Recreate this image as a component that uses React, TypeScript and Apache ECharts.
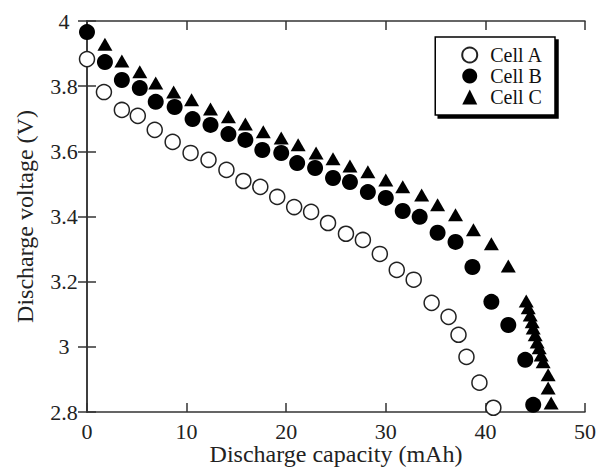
import React, { useEffect, useRef } from "react";
import * as echarts from "echarts";

const capacityA = [0.0, 1.7, 3.5, 5.1, 6.8, 8.6, 10.4, 12.2, 14.0, 15.7, 17.4, 19.1, 20.8, 22.5, 24.2, 26.0, 27.7, 29.4, 31.1, 32.8, 34.6, 36.3, 37.3, 38.1, 39.4, 40.8];
const voltageA = [3.883, 3.782, 3.727, 3.709, 3.666, 3.629, 3.595, 3.574, 3.543, 3.509, 3.491, 3.46, 3.429, 3.414, 3.38, 3.347, 3.328, 3.285, 3.236, 3.206, 3.135, 3.092, 3.037, 2.969, 2.89, 2.813];

const capacityB = [0.0, 1.8, 3.5, 5.3, 6.9, 8.8, 10.6, 12.4, 14.2, 15.9, 17.6, 19.5, 21.1, 22.9, 24.7, 26.4, 28.2, 30.0, 31.7, 33.4, 35.2, 37.0, 38.7, 40.6, 42.3, 44.0, 44.8];
const voltageB = [3.966, 3.874, 3.819, 3.794, 3.752, 3.736, 3.699, 3.681, 3.653, 3.635, 3.604, 3.595, 3.564, 3.549, 3.518, 3.506, 3.475, 3.457, 3.417, 3.399, 3.35, 3.322, 3.245, 3.138, 3.067, 2.96, 2.822];

const capacityC = [1.8, 3.5, 5.3, 6.9, 8.7, 10.5, 12.4, 14.2, 15.9, 17.7, 19.5, 21.2, 23.0, 24.7, 26.4, 28.2, 30.0, 31.7, 33.6, 35.2, 37.0, 38.8, 40.6, 42.3, 44.1, 44.3, 44.5, 44.7, 44.8, 45.0, 45.2, 45.4, 45.6, 45.8, 46.3, 46.3, 46.6];
const voltageC = [3.929, 3.877, 3.844, 3.81, 3.782, 3.758, 3.73, 3.706, 3.684, 3.66, 3.641, 3.62, 3.595, 3.577, 3.555, 3.537, 3.512, 3.491, 3.466, 3.436, 3.405, 3.359, 3.316, 3.248, 3.141, 3.12, 3.098, 3.077, 3.058, 3.037, 3.015, 2.997, 2.975, 2.954, 2.914, 2.874, 2.828];

const seriesNames = ["Cell A", "Cell B", "Cell C"];
const xTitle = "Discharge capacity (mAh)";
const yTitle = "Discharge voltage (V)";

const FONT = "'Liberation Serif', 'Times New Roman', serif";

function pairs(xs: number[], ys: number[]) {
  return xs.map((x, i) => [x, ys[i]]);
}

export default function App() {
  const ref = useRef<HTMLDivElement>(null);
  useEffect(() => {
    if (!ref.current) return;
    const chart = echarts.init(ref.current, null, { renderer: "svg" });
    const axisLine = { show: true, lineStyle: { color: "#333", width: 1.5 } };
    const tick = { show: true, inside: true, length: 9, lineStyle: { color: "#333", width: 1.5 } };
    chart.setOption({
      animation: false,
      backgroundColor: "#fff",
      textStyle: { fontFamily: FONT },
      grid: { left: 87, top: 21, right: 11, bottom: 56, containLabel: false, outerBoundsMode: "none" },
      legend: {
        orient: "vertical",
        right: 41,
        top: 37,
        itemWidth: 15,
        itemHeight: 15,
        itemGap: 1,
        padding: [8, 12, 8, 26],
        backgroundColor: "#fff",
        borderColor: "#000",
        borderWidth: 1.5,
        shadowColor: "#000",
        shadowBlur: 1,
        shadowOffsetX: 3,
        shadowOffsetY: 3,
        selectedMode: false,
        textStyle: { fontFamily: FONT, fontSize: 20, color: "#111", lineHeight: 20, padding: [0, 0, 0, 8] },
        data: seriesNames,
      },
      xAxis: [
        {
          type: "value",
          position: "bottom",
          min: 0,
          max: 50,
          interval: 10,
          axisLine,
          axisTick: tick,
          splitLine: { show: false },
          axisLabel: { fontFamily: FONT, fontSize: 22, color: "#222", margin: 9, lineHeight: 20 },
          name: xTitle,
          nameLocation: "middle",
          nameGap: 30,
          nameMoveOverlap: false,
          nameTextStyle: { fontFamily: FONT, fontSize: 24, color: "#222", lineHeight: 24 },
        },
        {
          type: "value",
          position: "top",
          min: 0,
          max: 50,
          interval: 10,
          axisLine,
          axisTick: tick,
          splitLine: { show: false },
          axisLabel: { show: false },
        },
      ],
      yAxis: [
        {
          type: "value",
          position: "left",
          min: 2.8,
          max: 4,
          interval: 0.2,
          axisLine,
          axisTick: tick,
          splitLine: { show: false },
          axisLabel: {
            fontFamily: FONT,
            fontSize: 22,
            color: "#222",
            align: "center",
            margin: 23,
            formatter: (v: number) => String(+v.toFixed(1)),
          },
          name: yTitle,
          nameLocation: "middle",
          nameGap: 50,
          nameMoveOverlap: false,
          nameTextStyle: { fontFamily: FONT, fontSize: 24, color: "#222" },
        },
        {
          type: "value",
          position: "right",
          min: 2.8,
          max: 4,
          interval: 0.2,
          axisLine,
          axisTick: tick,
          splitLine: { show: false },
          axisLabel: { show: false },
        },
      ],
      series: [
        {
          name: seriesNames[0],
          type: "scatter",
          xAxisIndex: 0,
          yAxisIndex: 0,
          symbol: "circle",
          symbolSize: 15,
          itemStyle: { color: "#fff", borderColor: "#222", borderWidth: 1.5, opacity: 1 },
          data: pairs(capacityA, voltageA),
          z: 2,
        },
        {
          name: seriesNames[1],
          type: "scatter",
          xAxisIndex: 0,
          yAxisIndex: 0,
          symbol: "circle",
          symbolSize: 16,
          itemStyle: { color: "#000", opacity: 1 },
          data: pairs(capacityB, voltageB),
          z: 3,
        },
        {
          name: seriesNames[2],
          type: "scatter",
          xAxisIndex: 0,
          yAxisIndex: 0,
          symbol: "triangle",
          symbolSize: [15, 13],
          itemStyle: { color: "#000", opacity: 1 },
          data: pairs(capacityC, voltageC),
          z: 4,
        },
      ],
    });
    return () => chart.dispose();
  }, []);
  return (
    <div
      ref={ref}
      style={{ position: "absolute", left: 0, top: 0, width: 596, height: 468, background: "#fff" }}
    />
  );
}
